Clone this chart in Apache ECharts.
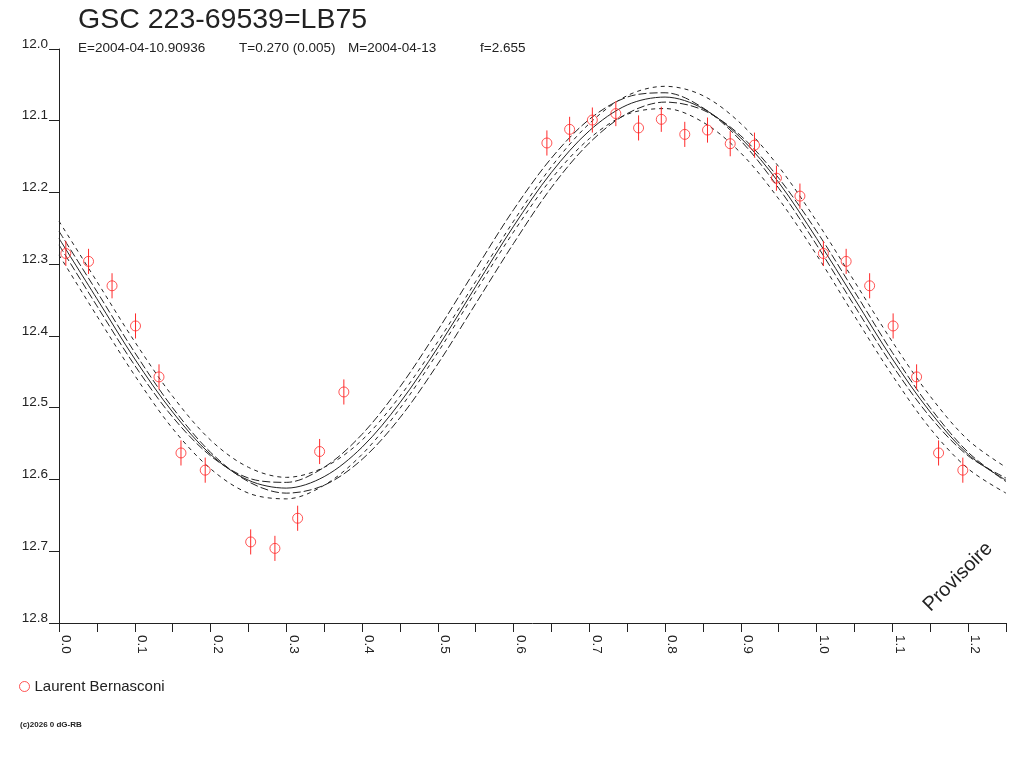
<!DOCTYPE html>
<html>
<head>
<meta charset="utf-8">
<script src="https://cdn.jsdelivr.net/npm/echarts@6/dist/echarts.min.js"></script>
<style>
  html, body { margin: 0; padding: 0; background: #fff; }
  #chart { width: 1024px; height: 768px; }
</style>
</head>
<body>
<div id="chart"></div>
<script>
const obsPhase = [0.009, 0.039, 0.070, 0.101, 0.132, 0.161, 0.193, 0.253, 0.285, 0.315, 0.344, 0.376,
                  0.644, 0.674, 0.704, 0.735, 0.765, 0.795, 0.826, 0.856, 0.886, 0.918, 0.947, 0.978];
const obsMag = [12.285, 12.296, 12.330, 12.386, 12.457, 12.563, 12.587, 12.687, 12.696, 12.654, 12.561, 12.478,
                12.131, 12.112, 12.099, 12.090, 12.110, 12.098, 12.119, 12.113, 12.132, 12.134, 12.180, 12.205];
const obsErr = 0.0175;

// fitted light curve and its envelope, sampled every 0.05 in phase
const curvePhase = [0, 0.05, 0.10, 0.15, 0.20, 0.25, 0.30, 0.35, 0.40, 0.45, 0.50, 0.55, 0.60,
                    0.65, 0.70, 0.75, 0.80, 0.85, 0.90, 0.95, 1.00, 1.05, 1.10, 1.15, 1.20, 1.25];
const fitMag = [12.264, 12.348, 12.432, 12.506, 12.565, 12.601, 12.612, 12.596, 12.555, 12.493, 12.416, 12.331, 12.247,
                12.172, 12.114, 12.078, 12.067, 12.083, 12.124, 12.186, 12.264, 12.348, 12.432, 12.506, 12.565, 12.601];
const outerHi = [12.240, 12.324, 12.408, 12.484, 12.545, 12.583, 12.597, 12.583, 12.545, 12.484, 12.408, 12.324, 12.240,
                 12.164, 12.104, 12.065, 12.052, 12.065, 12.104, 12.164, 12.240, 12.324, 12.408, 12.484, 12.545, 12.583];
const innerHi = [12.273, 12.358, 12.441, 12.513, 12.567, 12.598, 12.604, 12.583, 12.537, 12.471, 12.392, 12.307, 12.224,
                 12.152, 12.098, 12.067, 12.061, 12.082, 12.128, 12.194, 12.273, 12.358, 12.441, 12.513, 12.567, 12.598];
const innerLo = [12.254, 12.338, 12.423, 12.500, 12.562, 12.603, 12.619, 12.608, 12.572, 12.514, 12.439, 12.355, 12.271,
                 12.193, 12.131, 12.090, 12.074, 12.085, 12.121, 12.180, 12.254, 12.338, 12.423, 12.500, 12.562, 12.603];
const outerLo = [12.287, 12.372, 12.455, 12.529, 12.585, 12.619, 12.627, 12.608, 12.565, 12.501, 12.423, 12.338, 12.255,
                 12.181, 12.125, 12.091, 12.083, 12.102, 12.145, 12.209, 12.287, 12.372, 12.455, 12.529, 12.585, 12.619];

const titleText = 'GSC 223-69539=LB75';
const infoTexts = ['E=2004-04-10.90936', 'T=0.270 (0.005)', 'M=2004-04-13', 'f=2.655'];
const observer = 'Laurent Bernasconi';

const RED = '#ff2a2a';
const INK = '#222';
const FONT = '"Liberation Sans", Arial, sans-serif';

// phase-folded: points before 0.25 are shown again one cycle later
let pts = obsPhase.map((p, i) => [p, obsMag[i]]);
obsPhase.forEach((p, i) => { if (p + 1 <= 1.25) pts.push([p + 1, obsMag[i]]); });

const pair = arr => curvePhase.map((p, i) => [p, arr[i]]);

function curve(name, arr, dash) {
  return {
    name: name, type: 'line', data: pair(arr), smooth: 0.33, symbol: 'none', silent: true,
    lineStyle: { color: INK, width: 1, type: dash }, z: 2
  };
}

const chart = echarts.init(document.getElementById('chart'));

const infoX = [78, 239, 348, 480];

chart.setOption({
  animation: false,
  backgroundColor: '#fff',
  textStyle: { fontFamily: FONT },
  grid: { left: 59, right: 18, top: 49, bottom: 145 },
  xAxis: {
    type: 'value', min: 0, max: 1.25, interval: 0.05,
    axisLine: { lineStyle: { color: INK, width: 1 } },
    axisTick: { length: 9, lineStyle: { color: INK } },
    splitLine: { show: false },
    axisLabel: {
      rotate: -90, margin: 12, color: INK, fontSize: 13.5, fontFamily: FONT, verticalAlign: 'bottom',
      formatter: v => { const k = Math.round(v * 20); return k % 2 === 0 ? (k / 20).toFixed(1) : ''; }
    }
  },
  yAxis: {
    type: 'value', inverse: true, min: 12.0, max: 12.8, interval: 0.1,
    axisLine: { show: true, lineStyle: { color: INK, width: 1 } },
    axisTick: { show: true, length: 10, lineStyle: { color: INK } },
    splitLine: { show: false },
    axisLabel: {
      margin: 11, color: INK, fontSize: 13.5, fontFamily: FONT, verticalAlign: 'bottom',
      lineHeight: 10,
      formatter: v => v.toFixed(1)
    }
  },
  legend: {
    data: [observer], left: 14, top: 674, icon: 'circle', itemWidth: 10, itemHeight: 10, itemGap: 5,
    textStyle: { color: INK, fontSize: 15, fontFamily: FONT },
    itemStyle: { color: 'rgba(0,0,0,0)', borderColor: RED, borderWidth: 1 }
  },
  graphic: [
    { type: 'text', left: 78, top: 6, style: { text: titleText, font: '28.5px ' + FONT, fill: INK } },
    ...infoTexts.map((t, i) => ({
      type: 'text', x: infoX[i], y: 48,
      style: { text: t, font: '13.5px ' + FONT, fill: INK, verticalAlign: 'middle' }
    })),
    { type: 'text', x: 958, y: 577, rotation: Math.PI / 4,
      style: { text: 'Provisoire', font: '20px ' + FONT, fill: INK, align: 'center', verticalAlign: 'middle' } },
    { type: 'text', x: 20, y: 725,
      style: { text: '(c)2026 0 dG-RB', font: 'bold 8px ' + FONT, fill: INK, verticalAlign: 'middle' } }
  ],
  series: [
    curve('outerHi', outerHi, [4, 4]),
    curve('innerHi', innerHi, [8, 3]),
    curve('fit', fitMag, 'solid'),
    curve('innerLo', innerLo, [8, 3]),
    curve('outerLo', outerLo, [4, 4]),
    {
      name: 'errbars', type: 'custom', data: pts, silent: true, z: 4,
      renderItem: (params, api) => {
        const x = api.value(0), y = api.value(1);
        const a = api.coord([x, y - obsErr]);
        const b = api.coord([x, y + obsErr]);
        return { type: 'line', shape: { x1: a[0], y1: a[1], x2: b[0], y2: b[1] },
                 style: { stroke: RED, lineWidth: 1 } };
      }
    },
    {
      name: observer, type: 'scatter', data: pts, symbol: 'circle', symbolSize: 10, z: 5,
      itemStyle: { color: 'rgba(0,0,0,0)', borderColor: RED, borderWidth: 1 }
    }
  ]
});
</script>
</body>
</html>
